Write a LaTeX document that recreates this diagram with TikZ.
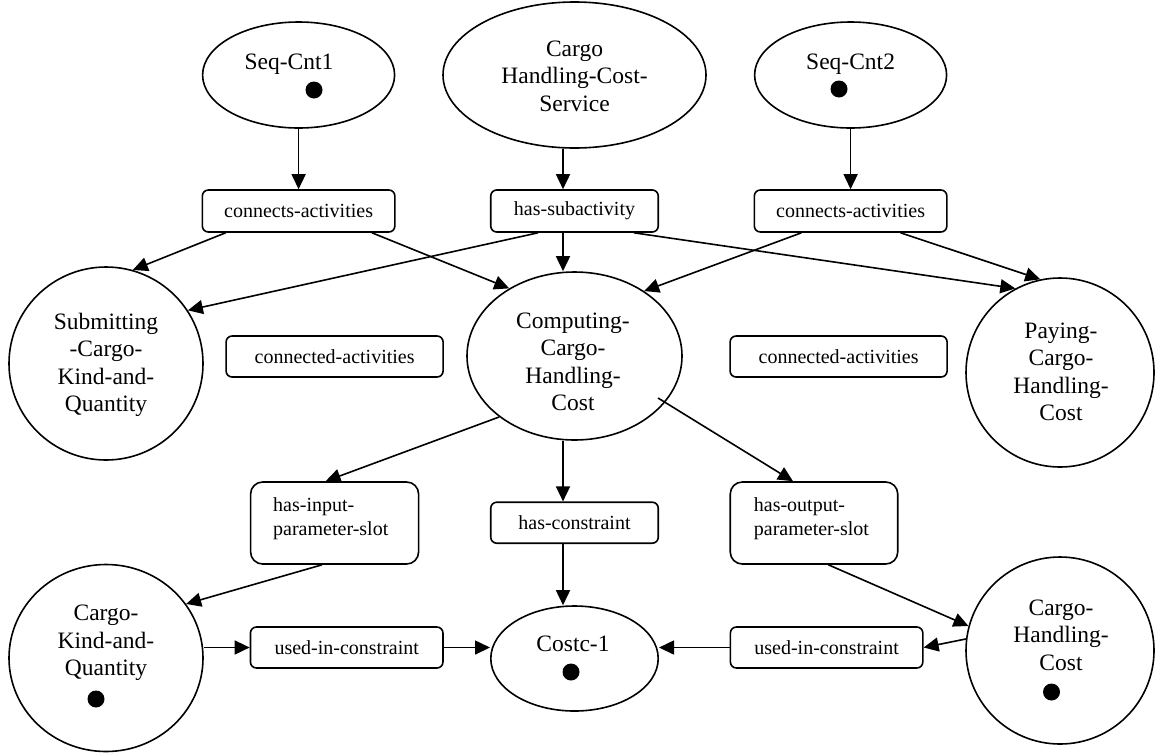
\documentclass[tikz,border=0pt]{standalone}
\usepackage{fontspec}
\setmainfont{Liberation Serif}
\usetikzlibrary{shapes.geometric,arrows.meta,calc}
\newcommand\bigf{\fontsize{23.5}{27.5}\selectfont}
\newcommand\boxf{\fontsize{20}{24}\selectfont}
\begin{document}
\begin{tikzpicture}[x=1pt,y=-1pt,
 lw/.style={line width=1.6pt},
 ell/.style={draw,ellipse,lw,inner sep=0pt},
 box/.style={draw,rounded corners=6pt,lw,inner sep=0pt,font=\boxf},
 bigbox/.style={draw,rounded corners=12pt,lw,inner sep=0pt},
 lbl/.style={font=\bigf,align=center,inner sep=0pt},
 btxt/.style={font=\boxf,align=left,inner sep=0pt,anchor=west},
 dotn/.style={fill,circle,inner sep=0pt,minimum size=17pt},
 arr/.style={lw,-{Triangle[length=15pt,width=14pt]}}]
\useasboundingbox (0,0) rectangle (1155,753);
% shapes
\node[ell,minimum width=192pt,minimum height=106pt] (sc1) at (298.6,75) {};
\node[ell,minimum width=263pt,minimum height=146pt] (svc) at (574.5,75) {};
\node[ell,minimum width=192pt,minimum height=106pt] (sc2) at (850.6,75) {};
\node[box,minimum width=192.5pt,minimum height=42pt] (ca1) at (298.6,211) {connects-activities};
\node[box,minimum width=167.5pt,minimum height=42pt] (hs) at (574.5,211) {has-subactivity};
\node[box,minimum width=192.5pt,minimum height=42pt] (ca2) at (850.6,211) {connects-activities};
\node[ell,minimum width=194pt,minimum height=193pt] (sub) at (106,363.5) {};
\node[ell,minimum width=215pt,minimum height=168pt] (comp) at (574.5,356) {};
\node[ell,minimum width=188pt,minimum height=189pt] (pay) at (1060,372.5) {};
\node[box,minimum width=217pt,minimum height=41pt] (cd1) at (334.6,356.5) {connected-activities};
\node[box,minimum width=217pt,minimum height=41pt] (cd2) at (838.6,356.5) {connected-activities};
\node[bigbox,minimum width=168pt,minimum height=82pt] (hi) at (334.6,523) {};
\node[box,minimum width=167.5pt,minimum height=41pt] (hcon) at (574.5,522.7) {has-constraint};
\node[bigbox,minimum width=167.5pt,minimum height=82pt] (ho) at (814,523) {};
\node[ell,minimum width=194pt,minimum height=187pt] (ckq) at (106,658) {};
\node[box,minimum width=192.5pt,minimum height=41pt] (uic1) at (346.7,647.5) {used-in-constraint};
\node[ell,minimum width=167.4pt,minimum height=105pt] (costc) at (574.5,658.5) {};
\node[box,minimum width=192.4pt,minimum height=41pt] (uic2) at (826.6,647.5) {used-in-constraint};
\node[ell,minimum width=188pt,minimum height=187pt] (chc) at (1060,650.5) {};
% texts
\node[lbl,anchor=base] (tsc1) at (289,69) {Seq-Cnt1};
\node[lbl,anchor=base] (tsc2) at (850.6,69) {Seq-Cnt2};
\node[lbl] (tsvc) at (574.5,76) {Cargo\\Handling-Cost-\\Service};
\node[lbl] (tsub) at (106,365) {Submitting\\-Cargo-\\Kind-and-\\Quantity};
\node[lbl] (tcomp) at (573,362) {Computing-\\Cargo-\\Handling-\\Cost};
\node[lbl] (tpay) at (1061,372) {Paying-\\Cargo-\\Handling-\\Cost};
\node[lbl] (tckq) at (106,643) {Cargo-\\Kind-and-\\Quantity};
\node[lbl] (tchc) at (1061,635) {Cargo-\\Handling-\\Cost};
\node[lbl] (tcostc) at (573,644) {Costc-1};
\node[btxt] (thi) at (273,519) {has-input-\\parameter-slot};
\node[btxt] (tho) at (753.7,519) {has-output-\\parameter-slot};
% dots
\node[dotn] (d1) at (314,90) {};
\node[dotn] (d2) at (839,89) {};
\node[dotn] (d3) at (96,699) {};
\node[dotn] (d4) at (571,672) {};
\node[dotn] (d5) at (1051.5,692) {};
% connectors
\draw[arr] (sc1.south) -- (ca1.north);
\draw[arr] ([xshift=-11.5pt]svc.south) -- ([xshift=-11.5pt]hs.north);
\draw[arr] (sc2.south) -- (ca2.north);
\draw[arr] ([xshift=-73pt]ca1.south) -- (sub.74);
\draw[arr] ([xshift=73.4pt]ca1.south) -- (comp.134);
\draw[arr] ([xshift=-36.5pt]hs.south) -- (sub.33);
\draw[arr] ([xshift=-11.5pt]hs.south) -- ([xshift=-11.5pt]hs.south |- comp.north);
\draw[arr] ([xshift=59.5pt]hs.south) -- (pay.118);
\draw[arr] ([xshift=-49.2pt]ca2.south) -- (comp.43);
\draw[arr] ([xshift=50pt]ca2.south) -- (pay.102);
\draw[arr] (comp.219) -- ([xshift=-9pt]hi.north);
\draw[arr] ([xshift=-11.5pt]hcon.north |- comp.south) -- ([xshift=-11.5pt]hcon.north);
\draw[arr] ([shift={(83.5,42)}]comp.center) -- ([xshift=-21pt]ho.north);
\draw[arr] ([xshift=-12.6pt]hi.south) -- (ckq.34);
\draw[arr] ([xshift=-11.5pt]hcon.south) -- ([xshift=-11.5pt]hcon.south |- costc.north);
\draw[arr] ([xshift=14.4pt]ho.south) -- (chc.165);
\draw[arr] (ckq.east |- uic1.west) -- (uic1.west);
\draw[arr] (uic1.east) -- (uic1.east -| costc.west);
\draw[arr] (chc.173.6) -- (uic2.east);
\draw[arr] (uic2.west) -- (uic2.west -| costc.east);
\end{tikzpicture}
\end{document}
